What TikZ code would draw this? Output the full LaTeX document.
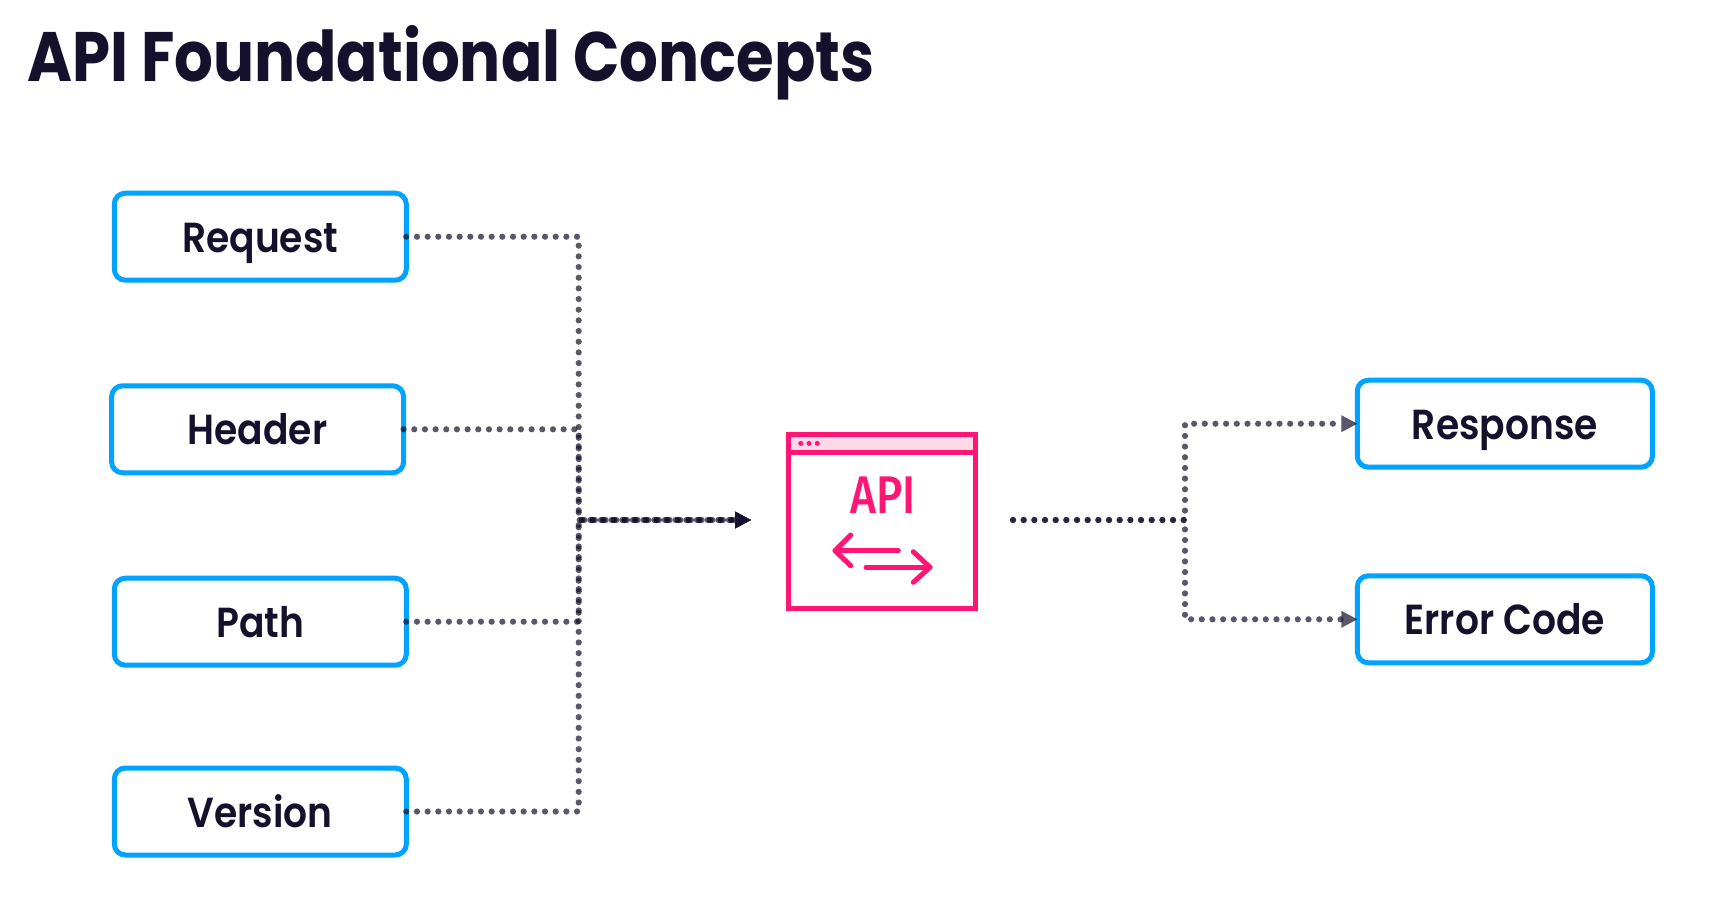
\documentclass[tikz,border=0pt]{standalone}
\usepackage{fontspec}
\setmainfont{Poppins}[UprightFont=* SemiBold,BoldFont=* Bold]
\newfontfamily\apifont{Fira Sans Medium}
\usetikzlibrary{arrows.meta,calc}
\definecolor{ink}{HTML}{15102B}
\definecolor{blue}{HTML}{00A3FF}
\definecolor{pink}{HTML}{FF1675}
\definecolor{pinklight}{HTML}{FFD9E8}
\newcommand\lab[1]{\scalebox{0.94}[1.05]{#1}}
\tikzset{
  term/.style={draw=blue,line width=5pt,rounded corners=11pt,minimum width=292pt,minimum height=87pt,outer sep=0pt,inner sep=0pt,text=ink,font=\fontsize{40}{42}\selectfont,text height=33pt,text depth=2pt,fill=white},
  wide/.style={term,minimum width=295pt},
  link/.style={draw=ink,opacity=.7,line width=6.2pt,line cap=round,dash pattern=on 0pt off 10.67pt},
  flow/.style={link,-{Triangle[length=16pt,width=17pt,line width=0pt]}},
  icon/.style={draw=pink,line width=5pt,line cap=round,line join=round},
}
\begin{document}
\begin{tikzpicture}[x=1pt,y=-1pt]
\useasboundingbox[fill=white] (0,0) rectangle (1709,921);
\node[anchor=base west,inner sep=0pt,text=ink,font=\bfseries\fontsize{66}{70}\selectfont] (title) at (27,81.7) {\scalebox{0.924}[1.06]{API Foundational Concepts}};
\node[term] (req) at (260.3,236.7) {\lab{Request}};
\node[term] (hdr) at (257.6,429.3) {\lab{Header}};
\node[term] (pth) at (260.3,621.7) {\lab{Path}};
\node[term] (ver) at (260.3,811.5) {\lab{Version}};
\node[wide] (res) at (1504.8,423.7) {\lab{Response}};
\node[wide] (err) at (1504.8,619.3) {\lab{Error Code}};
\node[draw=pink,line width=5pt,minimum width=187pt,minimum height=174pt,outer sep=0pt,inner sep=0pt] (api) at (882,521.3) {};
\coordinate (hub) at (578.7,520);
\coordinate (in) at (751,520);
\coordinate (out) at (1013,520);
\coordinate (split) at (1185,520);
% window bar
\fill[pinklight] (788.5,434.5) rectangle (975.5,452.3);
\draw[pink,line width=5pt] (api.north west) rectangle (api.south east);
\draw[pink,line width=5pt] (api.west |- 0,452.3) -- (api.east |- 0,452.3);
\fill[pink] (800.7,443.4) circle (2.5) (809,443.4) circle (2.5) (817.3,443.4) circle (2.5);
\node[text=pink,inner sep=0pt] (apitxt) at (883,495) {\apifont\scalebox{0.84}[1]{\fontsize{53}{53}\selectfont API}};
\draw[icon] (898.3,550.7) -- (835,550.7);
\draw[icon] (850.7,535) -- (835,550.7) -- (850.7,565.7);
\draw[icon] (866,567.3) -- (930,567.3);
\draw[icon] (913.3,551.7) -- (930,567.3) -- (913.3,582.3);
% connectors
\draw[flow] (req.east) -| (hub) -- (in);
\draw[flow] (hdr.east) -| (hub) -- (in);
\draw[flow] (pth.east) -| (hub) -- (in);
\draw[flow] (ver.east) -| (hub) -- (in);
\draw[flow] (out) -- (split) |- (res.west);
\draw[flow] (out) -- (split) |- (err.west);
\end{tikzpicture}
\end{document}
